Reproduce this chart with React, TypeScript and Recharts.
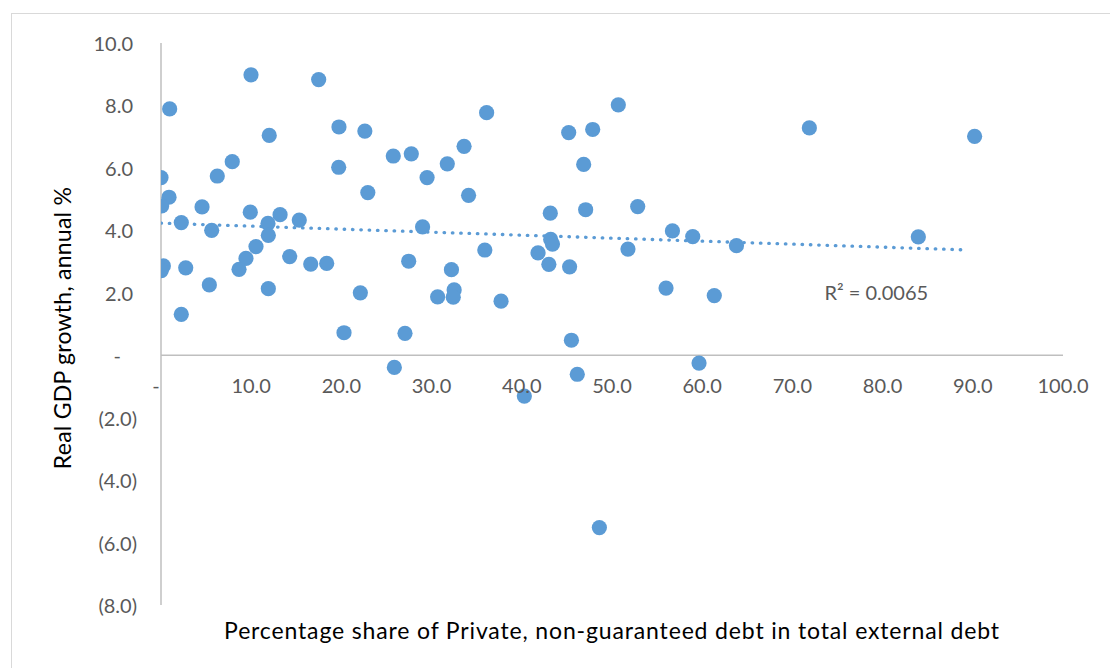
import React from 'react';
import { ScatterChart, Scatter, XAxis, YAxis, ReferenceLine, ReferenceDot } from 'recharts';

const pointX = [
  9.98, 0.96, 12.0, 7.9, 0.0, 6.24, 0.89, 0.07, 4.55, 9.9, 13.2, 15.33, 2.25, 11.86, 5.62, 11.9, 10.53, 9.42, 14.27,
  0.26, 0.03, 2.74, 8.65, 5.36, 11.9, 2.25, 17.48, 19.73, 22.6, 25.75, 27.75, 31.74, 19.7, 29.5, 22.93, 29.0,
  16.6, 18.37, 27.46, 32.2, 22.1, 30.67, 32.5, 32.4, 20.29, 27.05, 36.1, 33.6, 34.1, 45.2, 47.86, 46.86, 43.16,
  47.08, 43.2, 43.4, 35.9, 41.8, 43.0, 45.3, 37.7, 45.5, 50.7, 52.85, 56.7, 58.95, 51.77, 63.8, 55.99, 61.34,
  71.88, 90.2, 83.96, 25.87, 46.15, 40.28, 59.65, 48.6,
];
const pointY = [
  8.98, 7.89, 7.04, 6.2, 5.69, 5.74, 5.06, 4.78, 4.75, 4.58, 4.5, 4.33, 4.25, 4.22, 4.0, 3.84, 3.48, 3.1, 3.16,
  2.86, 2.71, 2.8, 2.75, 2.25, 2.13, 1.31, 8.83, 7.31, 7.18, 6.38, 6.45, 6.13, 6.02, 5.69, 5.21, 4.11,
  2.92, 2.94, 3.01, 2.74, 2.0, 1.87, 2.09, 1.86, 0.72, 0.7, 7.77, 6.69, 5.12, 7.13, 7.23, 6.11, 4.55,
  4.66, 3.71, 3.56, 3.37, 3.28, 2.91, 2.83, 1.73, 0.48, 8.02, 4.76, 3.98, 3.8, 3.4, 3.51, 2.15, 1.91,
  7.28, 7.01, 3.79, -0.39, -0.61, -1.31, -0.25, -5.52,
];
const trendX = [0, 89.5];
const trendY = [4.23, 3.37];
const xTicks = [0, 10, 20, 30, 40, 50, 60, 70, 80, 90, 100];
const yTicks = [-8, -6, -4, -2, 0, 2, 4, 6, 8, 10];
const X_DOMAIN: [number, number] = [0, 100];
const Y_DOMAIN: [number, number] = [-8, 10];
const r2Text = 'R\u00B2 = 0.0065';
const r2X = 79.3;
const r2Y = 1.99;
const xTitle = 'Percentage share of Private, non-guaranteed debt in total external debt';
const yTitle = 'Real GDP growth, annual %';

const points = pointX.map((x, i) => ({ x, y: pointY[i] }));
const trend = trendX.map((x, i) => ({ x, y: trendY[i] }));

const W = 1110;
const H = 668;
const TOP = 43;
const RIGHT = 47;
const Y_AXIS_W = 161;
const X_AXIS_H = 63;
const PLOT_H = H - TOP - X_AXIS_H;
const FONT = 'Lato, "Open Sans", sans-serif';
const TICK_COLOR = '#595959';
const AXIS_COLOR = '#bfbfbf';
const BLUE = '#5b9bd5';

const zeroFromBottom = (PLOT_H * (0 - Y_DOMAIN[0])) / (Y_DOMAIN[1] - Y_DOMAIN[0]);

function XTick(props: any) {
  const { x, y, payload } = props;
  const v = payload.value as number;
  const label = v === 0 ? '-' : v.toFixed(1);
  return (
    <text
      x={v === 0 ? x - 5 : x}
      y={y - zeroFromBottom + 30}
      textAnchor="middle"
      dominantBaseline="central"
      fill={TICK_COLOR}
      fontSize={20}
      fontFamily={FONT}
    >
      {label}
    </text>
  );
}

function YTick(props: any) {
  const { x, y, payload } = props;
  const v = payload.value as number;
  let label = v.toFixed(1);
  let dx = -4;
  if (v < 0) {
    label = `(${Math.abs(v).toFixed(1)})`;
    dx = 0;
  } else if (v === 0) {
    label = '-';
    dx = -16;
  }
  return (
    <text
      x={x + dx}
      y={y}
      textAnchor="end"
      dominantBaseline="central"
      fill={TICK_COLOR}
      fontSize={20}
      fontFamily={FONT}
    >
      {label}
    </text>
  );
}

const Dot = (props: any) => {
  const { cx, cy } = props;
  if (cx == null || cy == null) return null;
  return <circle cx={cx} cy={cy} r={7.6} fill={BLUE} />;
};

const NoShape = () => null;

export default function App() {
  return (
    <div style={{ position: 'absolute', left: 0, top: 0, width: W, height: H, background: '#fff', overflow: 'hidden' }}>
      <div
        style={{
          position: 'absolute',
          left: 11,
          top: 13,
          width: W,
          height: H,
          borderLeft: '1.5px solid #d9d9d9',
          borderTop: '1.5px solid #d9d9d9',
        }}
      />
      <div style={{ position: 'absolute', left: 0, top: 0 }}>
        <ScatterChart width={W} height={H} margin={{ top: TOP, right: RIGHT, bottom: 0, left: 0 }}>
          <XAxis
            type="number"
            dataKey="x"
            domain={X_DOMAIN}
            ticks={xTicks}
            interval={0}
            axisLine={false}
            tickLine={false}
            tickSize={0}
            tickMargin={0}
            height={X_AXIS_H}
            tick={<XTick />}
            allowDataOverflow
          />
          <YAxis
            type="number"
            dataKey="y"
            domain={Y_DOMAIN}
            ticks={yTicks}
            interval={0}
            axisLine={{ stroke: AXIS_COLOR, strokeWidth: 1.5 }}
            tickLine={false}
            tickSize={0}
            tickMargin={24}
            width={Y_AXIS_W}
            tick={<YTick />}
            allowDataOverflow
          />
          <ReferenceLine y={0} stroke={AXIS_COLOR} strokeWidth={1.5} />
          <Scatter
            data={trend}
            line={{ stroke: BLUE, strokeWidth: 3.3, strokeDasharray: '0.5 7.83', strokeLinecap: 'round' }}
            shape={<NoShape />}
            fill={BLUE}
            isAnimationActive={false}
          />
          <Scatter data={points} shape={<Dot />} fill={BLUE} isAnimationActive={false} />
          <ReferenceDot
            x={r2X}
            y={r2Y}
            r={0}
            fill="none"
            stroke="none"
            label={{ value: r2Text, position: 'center', fill: TICK_COLOR, fontSize: 20, fontFamily: FONT }}
          />
        </ScatterChart>
      </div>
      <div
        style={{
          position: 'absolute',
          left: 161 - 100,
          width: W - 161 - RIGHT + 200,
          top: 630 - 14,
          height: 28,
          lineHeight: '28px',
          textAlign: 'center',
          fontFamily: FONT,
          fontSize: 23,
          letterSpacing: '0.85px',
          color: '#000',
          whiteSpace: 'nowrap',
        }}
      >
        {xTitle}
      </div>
      <div
        style={{
          position: 'absolute',
          left: 62 - 200,
          top: 328 - 14,
          width: 400,
          height: 28,
          lineHeight: '28px',
          textAlign: 'center',
          fontFamily: FONT,
          fontSize: 23,
          letterSpacing: '0.25px',
          color: '#000',
          whiteSpace: 'nowrap',
          transform: 'rotate(-90deg)',
        }}
      >
        {yTitle}
      </div>
    </div>
  );
}
